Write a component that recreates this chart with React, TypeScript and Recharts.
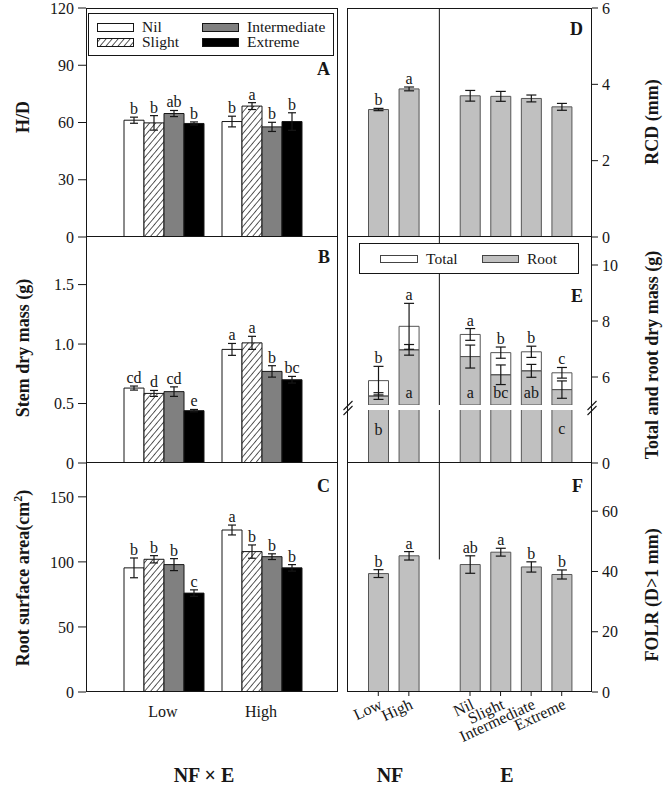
import React from 'react'
import { BarChart, Bar, XAxis, YAxis, ErrorBar, LabelList, ReferenceLine } from 'recharts'

const FONT = '"Liberation Serif", "Times New Roman", Times, serif'
const INK = '#161616'
const GREY = '#c0c0c0'

/* ── NF × E panels (A–C) ── */

const nfLevels = ['Low', 'High']
const eLevels = ['Nil', 'Slight', 'Intermediate', 'Extreme']
const eFills = ['#ffffff', 'hatch', '#808080', '#000000']

// A: H/D
const hdLow = [61.2, 59.8, 64.7, 59.5]
const hdLowErr = [1.6, 3.8, 1.6, 0.8]
const hdHigh = [60.5, 68.6, 57.7, 60.5]
const hdHighErr = [2.8, 1.8, 2.4, 4.6]
const hdLetters = [['b', 'b', 'ab', 'b'], ['b', 'a', 'b', 'b']]

// B: stem dry mass (g)
const smLow = [0.63, 0.585, 0.6, 0.44]
const smLowErr = [0.017, 0.025, 0.04, 0.01]
const smHigh = [0.955, 1.01, 0.77, 0.7]
const smHighErr = [0.05, 0.055, 0.048, 0.028]
const smLetters = [['cd', 'd', 'cd', 'e'], ['a', 'a', 'b', 'bc']]

// C: root surface area (cm2)
const rsLow = [95.4, 102, 97.9, 76]
const rsLowErr = [7.6, 2.8, 4.6, 2.5]
const rsHigh = [124.5, 107.9, 104, 95.4]
const rsHighErr = [3.8, 5.1, 2.2, 2.5]
const rsLetters = [['b', 'b', 'b', 'c'], ['a', 'b', 'b', 'b']]

/* ── main effect panels (D–F) ── */

const GAP = 'gap'
const nfCats = ['Low', 'High']
const eCats = ['Nil', 'Slight', 'Intermediate', 'Extreme']

// D: RCD (mm)
const rcdNF = [3.34, 3.88]
const rcdNFErr = [0.03, 0.05]
const rcdNFLetters = ['b', 'a']
const rcdE = [3.7, 3.685, 3.63, 3.41]
const rcdEErr = [0.14, 0.13, 0.09, 0.09]
const rcdELetters = ['', '', '', '']

// E: total and root dry mass (g)
const totalNF = [5.87, 7.81]
const totalNFErr = [0.51, 0.82]
const totalNFLetters = ['b', 'a']
const rootNF = [5.32, 6.97]
const rootNFErr = [0.12, 0.19]
const rootNFLetters = ['b', 'a']
const totalE = [7.52, 6.87, 6.9, 6.15]
const totalEErr = [0.21, 0.2, 0.2, 0.19]
const totalELetters = ['a', 'b', 'b', 'c']
const rootE = [6.73, 6.08, 6.22, 5.55]
const rootEErr = [0.41, 0.35, 0.23, 0.31]
const rootELetters = ['a', 'bc', 'ab', 'c']

// F: FOLR (D>1 mm)
const folrNF = [39.3, 45.2]
const folrNFErr = [1.3, 1.4]
const folrNFLetters = ['b', 'a']
const folrE = [42.3, 46.4, 41.5, 39.0]
const folrEErr = [2.9, 1.3, 1.7, 1.5]
const folrELetters = ['ab', 'a', 'b', 'b']

const BREAK = 5 // axis break in panel E
const E_TOP = 11

/* ── helpers ── */

// category slots: NF levels, an empty divider slot, then E levels
function join<T>(a: T[], b: T[]): (T | null)[] {
  return [...a, null, ...b]
}
const sideCats = join(nfCats, eCats).map((c) => c ?? GAP) as string[]

function boxOf(p: any) {
  const vb = p.viewBox && p.viewBox.width != null ? p.viewBox : p
  const h = Math.abs(vb.height)
  const top = vb.height >= 0 ? vb.y : vb.y + vb.height
  return { x: vb.x, w: vb.width, top, h }
}

// label indices only count drawn bars, so the arrays below skip the empty slot
function letterLabel(letters: string[], errs: number[], segs: number[]) {
  return (p: any) => {
    const i = p.index
    const t = letters[i]
    const seg = segs[i]
    if (!t || seg == null) return null
    const b = boxOf(p)
    const ppu = b.h / seg
    const y = b.top - (errs[i] ?? 0) * ppu - 3
    return (
      <text x={b.x + b.w / 2} y={y} textAnchor="middle" fontFamily={FONT} fontSize={16} fill={INK}>
        {t}
      </text>
    )
  }
}

// letter written inside a bar clipped to [lo, hi], at a fixed value on the axis
function insideLabel(letters: string[], vals: number[], show: boolean[], lo: number, hi: number, at: number) {
  return (p: any) => {
    const i = p.index
    const t = letters[i]
    const v = vals[i]
    if (!t || v == null || !show[i]) return null
    const b = boxOf(p)
    const ppu = b.h / (Math.min(v, hi) - lo)
    const y = b.top + b.h - (at - lo) * ppu
    return (
      <text x={b.x + b.w / 2} y={y} textAnchor="middle" fontFamily={FONT} fontSize={16} fill={INK}>
        {t}
      </text>
    )
  }
}

const tickStyle = { fill: INK, fontSize: 16, fontFamily: FONT }

function Hatch({ id }: { id: string }) {
  return (
    <pattern id={id} patternUnits="userSpaceOnUse" width={4.6} height={4.6} patternTransform="rotate(40)">
      <rect width={4.6} height={4.6} fill="#fff" />
      <line x1={0} y1={0} x2={0} y2={4.6} stroke="#000" strokeWidth={1.3} />
    </pattern>
  )
}

/* ── left panels ── */

interface NfxEProps {
  id: string
  top: number
  height: number
  mTop: number
  mBottom: number
  domain: [number, number]
  ticks: number[]
  fmt?: (v: number) => string
  low: number[]
  lowErr: number[]
  high: number[]
  highErr: number[]
  letters: string[][]
  showX?: boolean
}

function NfxEPanel({ id, top, height, mTop, mBottom, domain, ticks, fmt, low, lowErr, high, highErr, letters, showX }: NfxEProps) {
  const rows = nfLevels.map((nf, i) => {
    const m = i === 0 ? low : high
    const s = i === 0 ? lowErr : highErr
    const r: any = { nf }
    eLevels.forEach((e, k) => {
      r[e] = m[k]
      r[e + 'Err'] = s[k]
    })
    return r
  })
  const hatchId = 'hatch-' + id
  return (
    <div style={{ position: 'absolute', left: 0, top }}>
      <BarChart width={340} height={height} data={rows}
        margin={{ top: mTop, right: 2, bottom: mBottom, left: 36 }} barCategoryGap={10} barGap={0}>
        <defs>
          <Hatch id={hatchId} />
        </defs>
        <XAxis
          dataKey="nf"
          hide={!showX}
          axisLine={false}
          tickLine={false}
          padding={{ left: 28, right: 28 }}
          height={30}
          tick={tickStyle}
          tickMargin={8}
        />
        <YAxis
          domain={domain}
          ticks={ticks}
          interval={0}
          tickFormatter={fmt}
          width={50}
          axisLine={false}
          tickSize={8}
          tickMargin={4}
          tick={tickStyle}
          tickLine={{ stroke: INK }}
          allowDataOverflow
        />
        {eLevels.map((e, k) => (
          <Bar
            key={e}
            dataKey={e}
            fill={eFills[k] === 'hatch' ? `url(#${hatchId})` : eFills[k]}
            stroke={INK}
            strokeWidth={1}
            isAnimationActive={false}
          >
            <ErrorBar dataKey={e + 'Err'} width={4} stroke={INK} strokeWidth={1.2} isAnimationActive={false} />
            <LabelList
              dataKey={e}
              content={letterLabel(letters.map((r) => r[k]), rows.map((r) => r[e + 'Err']), rows.map((r) => r[e]))}
            />
          </Bar>
        ))}
      </BarChart>
    </div>
  )
}

/* ── right panels ── */

const SlantTick = (p: any) => {
  const x = p.x + 5
  const y = p.y + 10
  return (
    <text x={x} y={y} transform={`rotate(-25, ${x}, ${y})`} textAnchor="end" fontFamily={FONT} fontSize={16} fill={INK}>
      {p.payload.value}
    </text>
  )
}

const rightAxisProps = {
  orientation: 'right' as const,
  width: 40,
  interval: 0 as const,
  axisLine: false,
  tickSize: 6,
  tickMargin: 4,
  tick: { ...tickStyle, textAnchor: 'start' },
  tickLine: { stroke: INK },
  allowDataOverflow: true,
}

interface SideProps {
  top: number
  height: number
  mTop: number
  mBottom: number
  domain: [number, number]
  ticks: number[]
  nf: number[]
  nfErr: number[]
  nfLet: string[]
  e: number[]
  eErr: number[]
  eLet: string[]
  showX?: boolean
  divider?: [number, number]
}

function SidePanel({ top, height, mTop, mBottom, domain, ticks, nf, nfErr, nfLet, e, eErr, eLet, showX, divider }: SideProps) {
  const vals = join(nf, e)
  const errs = join(nfErr, eErr)
  const rows = sideCats.map((c, i) => ({ cat: c, v: vals[i], err: errs[i] }))
  return (
    <div style={{ position: 'absolute', left: 340, top }}>
      <BarChart width={326} height={height} data={rows}
        margin={{ top: mTop, right: 34, bottom: mBottom, left: 8 }} barCategoryGap={5.5}>
        <XAxis
          dataKey="cat"
          hide={!showX}
          ticks={sideCats.filter((c) => c !== GAP)}
          axisLine={false}
          tickLine={{ stroke: INK }}
          tickSize={4}
          tickMargin={2}
          padding={{ left: 15, right: 15 }}
          height={60}
          interval={0}
          tick={<SlantTick />}
        />
        <YAxis {...rightAxisProps} domain={domain} ticks={ticks} />
        {divider ? (
          <ReferenceLine segment={[{ x: GAP, y: divider[0] }, { x: GAP, y: divider[1] }]} stroke="#333" strokeWidth={1.2} />
        ) : (
          <ReferenceLine x={GAP} stroke="#333" strokeWidth={1.2} />
        )}
        <Bar dataKey="v" fill={GREY} stroke="#555" strokeWidth={1} isAnimationActive={false}>
          <ErrorBar dataKey="err" width={5} stroke={INK} strokeWidth={1.2} isAnimationActive={false} />
          <LabelList dataKey="v" content={letterLabel([...nfLet, ...eLet], [...nfErr, ...eErr], [...nf, ...e])} />
        </Bar>
      </BarChart>
    </div>
  )
}

function MassPanel() {
  const total = join(totalNF, totalE)
  const root = join(rootNF, rootE)
  const diff = total.map((t, i) => (t == null ? null : t - (root[i] as number)))
  const rows = sideCats.map((c, i) => ({
    cat: c,
    root: root[i],
    diff: diff[i],
    rootErr: join(rootNFErr, rootEErr)[i],
    totalErr: join(totalNFErr, totalEErr)[i],
  }))

  // drawn bars only (no empty slot)
  const rootD = [...rootNF, ...rootE]
  const totalD = [...totalNF, ...totalE]
  const diffD = totalD.map((t, i) => t - rootD[i])
  const rootLet = [...rootNFLetters, ...rootELetters]
  // root letters sit below the break when little of the root bar shows above it
  const inLower = rootD.map((r) => r - BREAK < 0.8)
  const inUpper = inLower.map((b) => !b)

  const axisX = <XAxis dataKey="cat" hide padding={{ left: 15, right: 15 }} />
  return (
    <>
      <div style={{ position: 'absolute', left: 340, top: 230 }}>
        <BarChart width={326} height={180} data={rows}
          margin={{ top: 7, right: 34, bottom: 5, left: 8 }} barCategoryGap={5.5}>
          {axisX}
          <YAxis {...rightAxisProps} domain={[BREAK, E_TOP]} ticks={[6, 8, 10]} />
          <ReferenceLine x={GAP} stroke="#333" strokeWidth={1.2} />
          <Bar dataKey="root" stackId="m" fill={GREY} stroke="#555" strokeWidth={1} isAnimationActive={false}>
            <ErrorBar dataKey="rootErr" width={5} stroke={INK} strokeWidth={1.2} isAnimationActive={false} />
            <LabelList dataKey="root" content={insideLabel(rootLet, rootD, inUpper, BREAK, E_TOP, 5.25)} />
          </Bar>
          <Bar dataKey="diff" stackId="m" fill="none" stroke="#555" strokeWidth={1} isAnimationActive={false}>
            <ErrorBar dataKey="totalErr" width={5} stroke={INK} strokeWidth={1.2} isAnimationActive={false} />
            <LabelList
              dataKey="diff"
              content={letterLabel([...totalNFLetters, ...totalELetters], [...totalNFErr, ...totalEErr], diffD)}
            />
          </Bar>
        </BarChart>
      </div>
      <div style={{ position: 'absolute', left: 340, top: 405 }}>
        <BarChart width={326} height={72} data={rows}
          margin={{ top: 5, right: 34, bottom: 14, left: 8 }} barCategoryGap={5.5}>
          {axisX}
          <YAxis {...rightAxisProps} domain={[0, BREAK]} ticks={[0]} />
          <ReferenceLine x={GAP} stroke="#333" strokeWidth={1.2} />
          <Bar dataKey="root" fill={GREY} stroke="#555" strokeWidth={1} isAnimationActive={false}>
            <LabelList dataKey="root" content={insideLabel(rootLet, rootD, inLower, 0, BREAK, 2.45)} />
          </Bar>
        </BarChart>
      </div>
    </>
  )
}

/* ── frames, titles, legends ── */

const frames = [
  [86.5, 8.5, 337.5, 236.5],
  [86.5, 236.5, 337.5, 462.5],
  [86.5, 462.5, 337.5, 691.5],
  [347.5, 8.5, 591.5, 236.5],
  [347.5, 236.5, 591.5, 462.5],
  [347.5, 462.5, 591.5, 691.5],
]

function Overlay() {
  const bold = { fontFamily: FONT, fontWeight: 700, fill: INK } as const
  const plain = { fontFamily: FONT, fontSize: 15.5, fill: INK } as const
  const vTitle = (x: number, y: number, content: React.ReactNode, key: string) => (
    <text key={key} transform={`translate(${x},${y}) rotate(-90)`} textAnchor="middle" fontSize={18} {...bold}>
      {content}
    </text>
  )
  return (
    <svg width={666} height={787} style={{ position: 'absolute', left: 0, top: 0, pointerEvents: 'none' }}>
      <defs>
        <Hatch id="hatch-legend" />
      </defs>
      {frames.map(([x1, y1, x2, y2], i) => (
        <rect key={i} x={x1} y={y1} width={x2 - x1} height={y2 - y1} fill="none" stroke={INK} strokeWidth={1} />
      ))}
      {/* axis break marks */}
      {[348, 592].map((x) => (
        <g key={x} stroke={INK} strokeWidth={1.1}>
          <line x1={x - 4.5} y1={410} x2={x + 4.5} y2={401} />
          <line x1={x - 4.5} y1={415} x2={x + 4.5} y2={406} />
        </g>
      ))}

      {vTitle(29, 117, 'H/D', 'hd')}
      {vTitle(29, 348, 'Stem dry mass (g)', 'sm')}
      {vTitle(
        29,
        578,
        <>
          Root surface area(cm<tspan dy={-7} fontSize={12}>2</tspan>
          <tspan dy={7}>)</tspan>
        </>,
        'rs'
      )}
      {vTitle(658, 122, 'RCD (mm)', 'rcd')}
      {vTitle(658, 355, 'Total and root dry mass (g)', 'tm')}
      {vTitle(658, 595, 'FOLR (D>1 mm)', 'folr')}

      {[
        ['A', 330, 75],
        ['B', 330, 263],
        ['C', 330, 492],
        ['D', 583, 35],
        ['E', 583, 302],
        ['F', 583, 492],
      ].map(([t, x, y]) => (
        <text key={t as string} x={x as number} y={y as number} textAnchor="end" fontSize={18} {...bold}>
          {t}
        </text>
      ))}

      <text x={204} y={782} textAnchor="middle" fontSize={20} {...bold}>NF × E</text>
      <text x={390} y={782} textAnchor="middle" fontSize={20} {...bold}>NF</text>
      <text x={507} y={782} textAnchor="middle" fontSize={20} {...bold}>E</text>

      {/* legend A */}
      <rect x={88.5} y={13.5} width={245} height={42} fill="#fff" stroke={INK} strokeWidth={1} />
      {eLevels.map((e, k) => {
        const x = k < 2 ? 97 : 202
        const y = k % 2 === 0 ? 23 : 38
        const fill = eFills[k] === 'hatch' ? 'url(#hatch-legend)' : eFills[k]
        return (
          <g key={e}>
            <rect x={x + 0.5} y={y + 0.5} width={36} height={8} fill={fill} stroke={INK} strokeWidth={1} />
            <text x={x + 45} y={y + 9} {...plain}>{e}</text>
          </g>
        )
      })}

      {/* legend E */}
      <rect x={359.5} y={243.5} width={219} height={30} fill="#fff" stroke={INK} strokeWidth={1} />
      <rect x={380.5} y={255.5} width={37} height={7} fill="#fff" stroke="#444" strokeWidth={1} />
      <text x={426} y={264} {...plain}>Total</text>
      <rect x={482.5} y={255.5} width={36} height={7} fill={GREY} stroke="#444" strokeWidth={1} />
      <text x={527} y={264} {...plain}>Root</text>
    </svg>
  )
}

export default function App() {
  return (
    <div style={{ position: 'absolute', left: 0, top: 0, width: 666, height: 787, background: '#fff', fontFamily: FONT }}>
      <NfxEPanel id="a" top={0} height={250} mTop={8} mBottom={13} domain={[0, 120]} ticks={[0, 30, 60, 90, 120]}
        low={hdLow} lowErr={hdLowErr} high={hdHigh} highErr={hdHighErr} letters={hdLetters} />
      <NfxEPanel id="b" top={230} height={250} mTop={7} mBottom={17} domain={[0, 1.9]} ticks={[0, 0.5, 1, 1.5]}
        fmt={(v) => (v === 0 ? '0' : v.toFixed(1))}
        low={smLow} lowErr={smLowErr} high={smHigh} highErr={smHighErr} letters={smLetters} />
      <NfxEPanel id="c" top={455} height={270} mTop={8} mBottom={3} domain={[0, 176]} ticks={[0, 50, 100, 150]}
        low={rsLow} lowErr={rsLowErr} high={rsHigh} highErr={rsHighErr} letters={rsLetters} showX />

      <SidePanel top={0} height={250} mTop={8} mBottom={13} domain={[0, 6]} ticks={[0, 2, 4, 6]}
        nf={rcdNF} nfErr={rcdNFErr} nfLet={rcdNFLetters} e={rcdE} eErr={rcdEErr} eLet={rcdELetters} />
      <MassPanel />
      <SidePanel top={455} height={332} mTop={8} mBottom={35} domain={[0, 76]} ticks={[0, 20, 40, 60]}
        nf={folrNF} nfErr={folrNFErr} nfLet={folrNFLetters} e={folrE} eErr={folrEErr} eLet={folrELetters}
        showX divider={[44, 76]} />

      <Overlay />
    </div>
  )
}
